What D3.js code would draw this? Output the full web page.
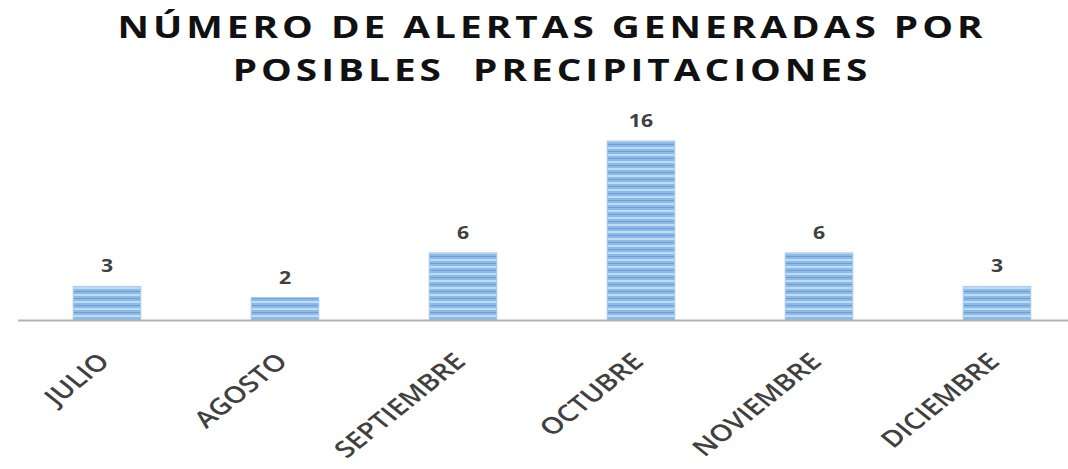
<!DOCTYPE html>
<html><head><meta charset="utf-8">
<script src="https://cdn.jsdelivr.net/npm/d3@7"></script>
<style>body{margin:0;background:#fff}svg{display:block}</style>
</head><body>
<svg id="c" width="1068" height="469"></svg>
<script>
const titleLines = ["NÚMERO DE ALERTAS GENERADAS POR", "POSIBLES  PRECIPITACIONES"];
const months = ["JULIO","AGOSTO","SEPTIEMBRE","OCTUBRE","NOVIEMBRE","DICIEMBRE"];
const alerts = [3,2,6,16,6,3];

const svg = d3.select("#c");
const defs = svg.append("defs");
const pat = defs.append("pattern").attr("id","stripes").attr("patternUnits","userSpaceOnUse")
  .attr("width",10).attr("height",7);
pat.append("rect").attr("width",10).attr("height",7).attr("fill","#8dbbe8");
pat.append("rect").attr("y",0).attr("width",10).attr("height",2).attr("fill","#c2dbf3");
pat.append("rect").attr("y",4).attr("width",10).attr("height",1).attr("fill","#6a9fd8");

const x = d3.scaleBand().domain(months).range([18,1086]).paddingInner(0.62).paddingOuter(0.31);
const y = d3.scaleLinear().domain([0,16]).range([320,141]);
const SX = 1.25;

svg.append("g").attr("transform",`translate(552,0) scale(${SX},1)`)
  .selectAll("text").data(titleLines).join("text")
  .attr("x",0).attr("y",(d,i)=>38+i*43)
  .attr("text-anchor","middle")
  .attr("font-family","Open Sans, sans-serif").attr("font-weight",700)
  .attr("font-size",31).attr("letter-spacing",3.2).attr("fill","#111")
  .style("white-space","pre").text(d=>d);

svg.append("g").selectAll("rect").data(alerts).join("rect")
  .attr("x",(d,i)=>x(months[i])).attr("width",x.bandwidth())
  .attr("y",d=>y(d)).attr("height",d=>y(0)-y(d))
  .attr("fill","url(#stripes)").attr("stroke","#a8cbec").attr("stroke-width",1);

svg.append("line").attr("x1",18).attr("x2",1068).attr("y1",y(0)+0.5).attr("y2",y(0)+0.5)
  .attr("stroke","#b3b3b3").attr("stroke-width",2);

svg.append("g").selectAll("text").data(alerts).join("text")
  .attr("transform",(d,i)=>`translate(${x(months[i])+x.bandwidth()/2},${y(d)-14}) scale(${SX},1)`)
  .attr("text-anchor","middle").attr("font-family","Open Sans, sans-serif")
  .attr("font-weight",700).attr("font-size",17).attr("fill","#404040").text(d=>d);

const xAxis = d3.axisBottom(x).tickSize(0).tickPadding(0);
const gx = svg.append("g").attr("transform",`translate(0,${y(0)})`).call(xAxis);
gx.select(".domain").remove();
gx.selectAll("text")
  .attr("font-family","Open Sans, sans-serif").attr("font-weight",600).attr("font-size",23).attr("fill","#404040")
  .attr("text-anchor","end").attr("dy",null).attr("y",0)
  .attr("transform",`translate(4,43) scale(${SX},1) rotate(-45)`);
</script>
</body></html>
